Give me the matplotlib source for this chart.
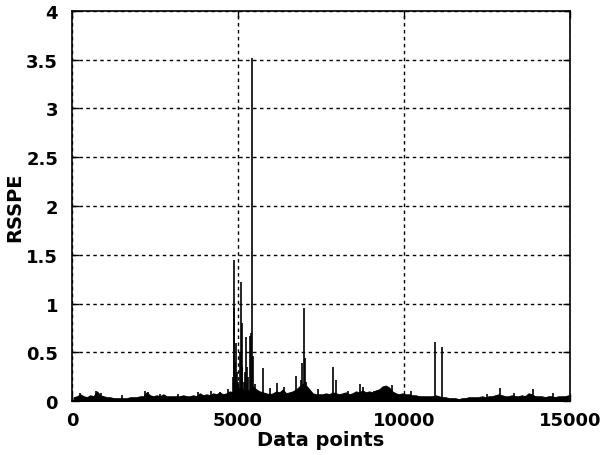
import matplotlib
matplotlib.use("Agg")
import matplotlib.pyplot as plt
import numpy as np

# upper envelope of the noise band, one value per 100 data points
band = [
    0.04, 0.05, 0.07, 0.05, 0.04, 0.06, 0.05, 0.10, 0.06, 0.05,
    0.04, 0.04, 0.03, 0.03, 0.03, 0.03, 0.03, 0.04, 0.04, 0.04,
    0.05, 0.05, 0.09, 0.06, 0.05, 0.06, 0.05, 0.07, 0.05, 0.05,
    0.05, 0.05, 0.05, 0.06, 0.05, 0.05, 0.06, 0.05, 0.08, 0.06,
    0.07, 0.06, 0.08, 0.07, 0.09, 0.07, 0.08, 0.10, 0.09, 0.12,
    0.14, 0.12, 0.10, 0.12, 0.15, 0.12, 0.10, 0.09, 0.08, 0.07,
    0.08, 0.10, 0.09, 0.12, 0.08, 0.09, 0.10, 0.12, 0.15, 0.18,
    0.16, 0.12, 0.08, 0.07, 0.07, 0.07, 0.08, 0.07, 0.09, 0.08,
    0.07, 0.08, 0.09, 0.07, 0.08, 0.10, 0.09, 0.11, 0.09, 0.10,
    0.09, 0.11, 0.12, 0.15, 0.16, 0.14, 0.10, 0.08, 0.07, 0.08,
    0.07, 0.07, 0.06, 0.06, 0.05, 0.05, 0.05, 0.05, 0.05, 0.06,
    0.05, 0.04, 0.04, 0.03, 0.03, 0.03, 0.02, 0.03, 0.03, 0.04,
    0.04, 0.04, 0.04, 0.05, 0.04, 0.05, 0.05, 0.06, 0.07, 0.06,
    0.05, 0.05, 0.06, 0.05, 0.05, 0.06, 0.05, 0.08, 0.07, 0.05,
    0.05, 0.05, 0.04, 0.05, 0.05, 0.04, 0.05, 0.05, 0.05, 0.06,
]
band_x = np.arange(len(band)) * 100 + 50

# isolated spikes (data point, RSSPE)
spike_x = [250, 720, 860, 1500, 2200, 2300, 2650, 3200, 3800, 4200,
           4450, 4700, 4860, 4870, 4890, 4920, 4940, 4960, 5000, 5060,
           5090, 5120, 5130, 5180, 5200, 5240, 5280, 5300, 5360, 5390,
           5410, 5450, 5500, 5740, 5950, 6170, 6400, 6750, 6900, 6940,
           6980, 7020, 7060, 7400, 7870, 7950, 8300, 8675, 8760, 9100,
           9630, 10200, 10945, 11145, 12500, 12890, 13300, 13880, 14500]
spike_y = [0.08, 0.10, 0.08, 0.06, 0.10, 0.09, 0.07, 0.07, 0.09, 0.10,
           0.09, 0.12, 0.25, 0.95, 1.45, 0.40, 0.60, 0.30, 0.20, 0.50,
           1.22, 0.80, 0.35, 0.20, 0.30, 0.66, 0.35, 0.25, 0.67, 0.70,
           3.52, 0.46, 0.18, 0.34, 0.14, 0.19, 0.15, 0.26, 0.22, 0.39,
           0.96, 0.44, 0.20, 0.13, 0.35, 0.22, 0.10, 0.18, 0.15, 0.10,
           0.17, 0.10, 0.61, 0.56, 0.07, 0.14, 0.08, 0.12, 0.08]

fig = plt.figure(figsize=(6, 4.56), dpi=100)
ax = fig.add_axes([0.12, 0.118, 0.83, 0.856])

ax.fill_between(band_x, 0, band, color="k", lw=0.8)
ax.vlines(spike_x, 0, spike_y, colors="k", lw=1.2)

ax.set_xlim(0, 15000)
ax.set_ylim(0, 4)
ax.set_xticks([0, 5000, 10000, 15000])
ax.set_yticks(np.arange(0, 4.01, 0.5))
ax.set_yticklabels(["0", "0.5", "1", "1.5", "2", "2.5", "3", "3.5", "4"])
ax.grid(True, color="k", linestyle=(0, (2.5, 2.5)), lw=1.0)
ax.tick_params(direction="in", length=5, top=True, right=True, width=1,
               labelsize=13)
ax.tick_params(axis="y", pad=10)
ax.tick_params(axis="x", pad=7)
for lab in ax.get_xticklabels() + ax.get_yticklabels():
    lab.set_fontweight("heavy")
for s in ax.spines.values():
    s.set_linewidth(1.2)

ax.set_xlabel("Data points", fontsize=14, fontweight="heavy", labelpad=1)
ax.set_ylabel("RSSPE", fontsize=14, fontweight="heavy")
ax.yaxis.set_label_coords(-0.095, 0.5)

fig.savefig("out.png", dpi=100)
